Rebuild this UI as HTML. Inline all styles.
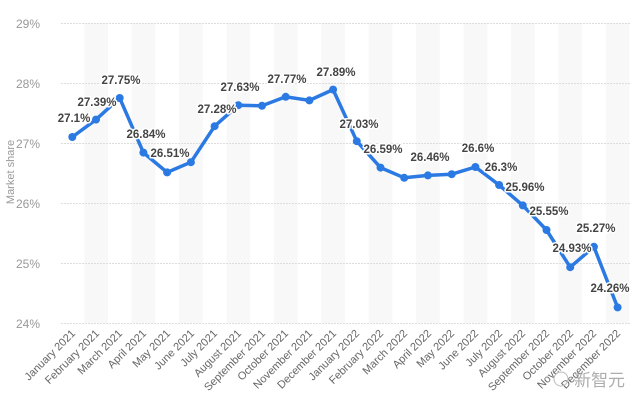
<!DOCTYPE html>
<html><head><meta charset="utf-8"><style>
html,body{margin:0;padding:0;background:#fff;}
svg{display:block;font-family:"Liberation Sans","Noto Sans CJK SC",sans-serif;}
.yt{font-size:12px;fill:#999;text-anchor:end;}
.xt{font-size:11px;fill:#666;text-anchor:end;}
.dl{font-size:11.5px;fill:#444;text-anchor:middle;font-weight:bold;paint-order:stroke;stroke:#fff;stroke-width:3px;stroke-linejoin:round;}
</style></head><body>
<svg width="641" height="408" viewBox="0 0 641 408">
<g fill="#f8f8f8">
<rect x="84.2" y="23" width="23.7" height="300"/>
<rect x="131.6" y="23" width="23.7" height="300"/>
<rect x="179.0" y="23" width="23.7" height="300"/>
<rect x="226.5" y="23" width="23.7" height="300"/>
<rect x="273.9" y="23" width="23.7" height="300"/>
<rect x="321.3" y="23" width="23.7" height="300"/>
<rect x="368.7" y="23" width="23.7" height="300"/>
<rect x="416.1" y="23" width="23.7" height="300"/>
<rect x="463.6" y="23" width="23.7" height="300"/>
<rect x="511.0" y="23" width="23.7" height="300"/>
<rect x="558.4" y="23" width="23.7" height="300"/>
<rect x="605.8" y="23" width="23.7" height="300"/>
</g>
<g stroke="#ddd" stroke-width="1" stroke-dasharray="2,1">
<line x1="61" x2="630" y1="23.5" y2="23.5"/>
<line x1="61" x2="630" y1="83.5" y2="83.5"/>
<line x1="61" x2="630" y1="143.5" y2="143.5"/>
<line x1="61" x2="630" y1="203.5" y2="203.5"/>
<line x1="61" x2="630" y1="263.5" y2="263.5"/>
<line x1="61" x2="630" y1="323.5" y2="323.5"/>
</g>
<g class="yt">
<text x="40" y="28">29%</text>
<text x="40" y="88">28%</text>
<text x="40" y="148">27%</text>
<text x="40" y="208">26%</text>
<text x="40" y="268">25%</text>
<text x="40" y="328">24%</text>
</g>
<text transform="translate(14,172) rotate(-90)" font-size="11" fill="#999" text-anchor="middle">Market share</text>
<polyline fill="none" stroke="#2b79e2" stroke-width="3.5" stroke-linejoin="round" points="72.3,137 96.0,119.6 119.7,98 143.4,152.6 167.1,172.4 190.9,162.2 214.6,126.2 238.3,105.2 262.0,105.8 285.7,96.8 309.4,100.4 333.1,89.6 356.8,141.2 380.5,167.6 404.2,177.8 427.9,175.4 451.7,174.2 475.4,167 499.1,185 522.8,205.4 546.5,230 570.2,267.2 593.9,246.8 617.6,307.4"/>
<g fill="#2b79e2">
<circle cx="72.3" cy="137" r="4"/><circle cx="96.0" cy="119.6" r="4"/><circle cx="119.7" cy="98" r="4"/><circle cx="143.4" cy="152.6" r="4"/><circle cx="167.1" cy="172.4" r="4"/><circle cx="190.9" cy="162.2" r="4"/><circle cx="214.6" cy="126.2" r="4"/><circle cx="238.3" cy="105.2" r="4"/><circle cx="262.0" cy="105.8" r="4"/><circle cx="285.7" cy="96.8" r="4"/><circle cx="309.4" cy="100.4" r="4"/><circle cx="333.1" cy="89.6" r="4"/><circle cx="356.8" cy="141.2" r="4"/><circle cx="380.5" cy="167.6" r="4"/><circle cx="404.2" cy="177.8" r="4"/><circle cx="427.9" cy="175.4" r="4"/><circle cx="451.7" cy="174.2" r="4"/><circle cx="475.4" cy="167" r="4"/><circle cx="499.1" cy="185" r="4"/><circle cx="522.8" cy="205.4" r="4"/><circle cx="546.5" cy="230" r="4"/><circle cx="570.2" cy="267.2" r="4"/><circle cx="593.9" cy="246.8" r="4"/><circle cx="617.6" cy="307.4" r="4"/>
</g>
<g class="dl">
<text x="74" y="122">27.1%</text>
<text x="97" y="106">27.39%</text>
<text x="121" y="84">27.75%</text>
<text x="146" y="138">26.84%</text>
<text x="170" y="157">26.51%</text>
<text x="217" y="113">27.28%</text>
<text x="240" y="91">27.63%</text>
<text x="287" y="83">27.77%</text>
<text x="336" y="76">27.89%</text>
<text x="359" y="128">27.03%</text>
<text x="383" y="153">26.59%</text>
<text x="430" y="161">26.46%</text>
<text x="478" y="152">26.6%</text>
<text x="501" y="171">26.3%</text>
<text x="525" y="191">25.96%</text>
<text x="549" y="215">25.55%</text>
<text x="596" y="232">25.27%</text>
<text x="572" y="252">24.93%</text>
<text x="610" y="292">24.26%</text>
</g>
<g class="xt">
<text transform="translate(76,334) rotate(-45)">January 2021</text>
<text transform="translate(100,334) rotate(-45)">February 2021</text>
<text transform="translate(123,334) rotate(-45)">March 2021</text>
<text transform="translate(147,334) rotate(-45)">April 2021</text>
<text transform="translate(171,334) rotate(-45)">May 2021</text>
<text transform="translate(195,334) rotate(-45)">June 2021</text>
<text transform="translate(218,334) rotate(-45)">July 2021</text>
<text transform="translate(242,334) rotate(-45)">August 2021</text>
<text transform="translate(266,334) rotate(-45)">September 2021</text>
<text transform="translate(289,334) rotate(-45)">October 2021</text>
<text transform="translate(313,334) rotate(-45)">November 2021</text>
<text transform="translate(337,334) rotate(-45)">December 2021</text>
<text transform="translate(360,334) rotate(-45)">January 2022</text>
<text transform="translate(384,334) rotate(-45)">February 2022</text>
<text transform="translate(408,334) rotate(-45)">March 2022</text>
<text transform="translate(432,334) rotate(-45)">April 2022</text>
<text transform="translate(455,334) rotate(-45)">May 2022</text>
<text transform="translate(479,334) rotate(-45)">June 2022</text>
<text transform="translate(503,334) rotate(-45)">July 2022</text>
<text transform="translate(526,334) rotate(-45)">August 2022</text>
<text transform="translate(550,334) rotate(-45)">September 2022</text>
<text transform="translate(574,334) rotate(-45)">October 2022</text>
<text transform="translate(597,334) rotate(-45)">November 2022</text>
<text transform="translate(621,334) rotate(-45)">December 2022</text>
</g>
<circle cx="561" cy="379" r="7" fill="none" stroke="#bbb" stroke-width="1"/>
<text x="574" y="386" font-size="17" fill="#999" opacity="0.8">新智元</text>
</svg>
</body></html>
